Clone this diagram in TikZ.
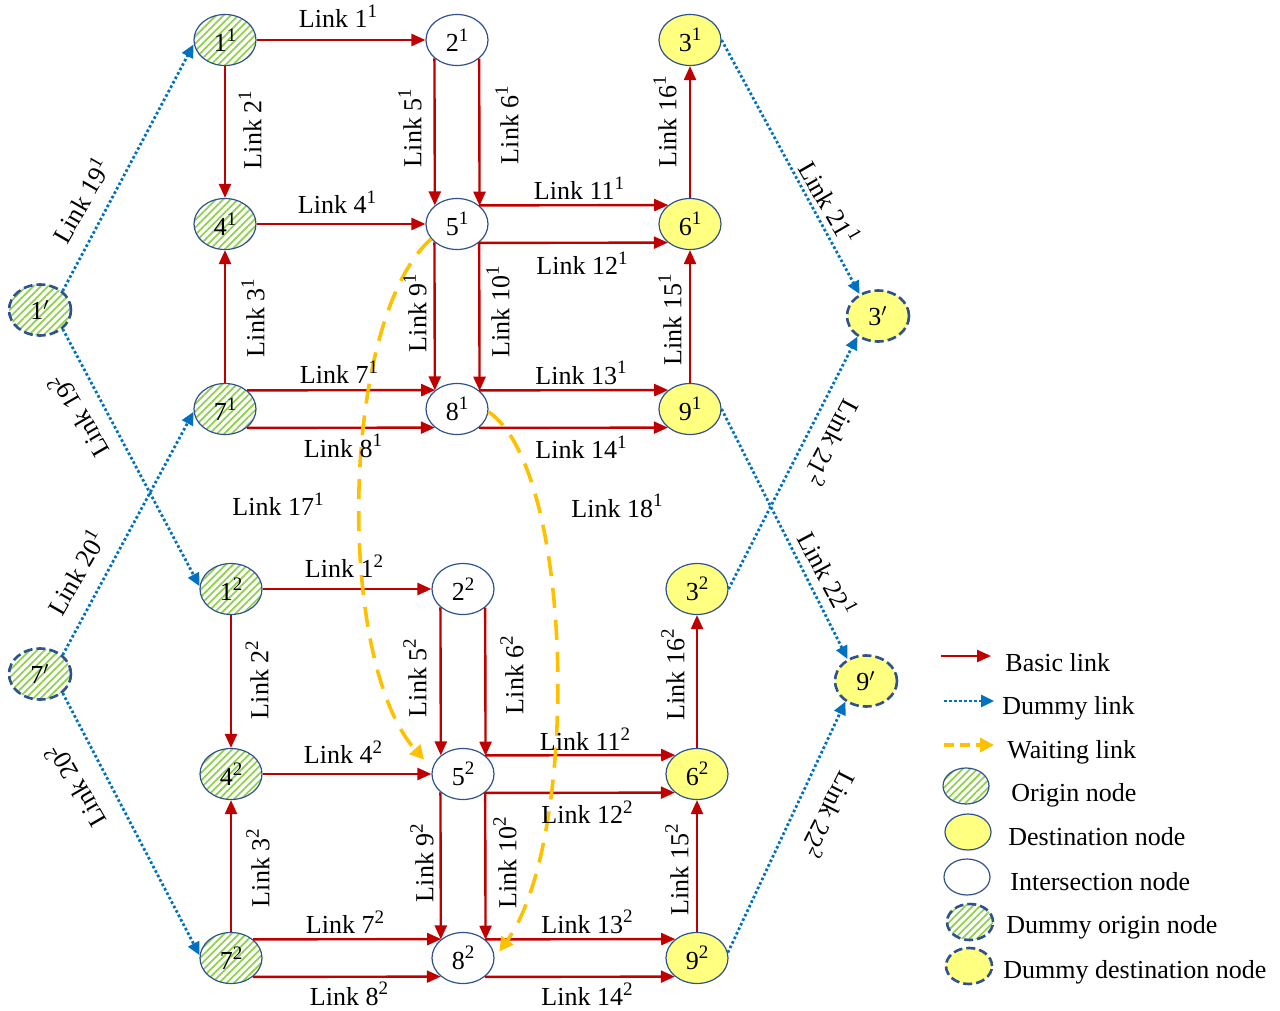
\documentclass[tikz,border=0pt]{standalone}
\usepackage{fontspec}
\setmainfont{Liberation Serif}
\usetikzlibrary{shapes.geometric,arrows.meta,patterns.meta}
\definecolor{bred}{RGB}{192,0,0}
\definecolor{dblue}{RGB}{0,112,192}
\definecolor{worange}{RGB}{255,192,0}
\definecolor{nblue}{RGB}{47,82,143}
\definecolor{dyellow}{RGB}{255,255,128}
\definecolor{hgreen}{RGB}{146,208,80}
\newcommand\lfs{\fontsize{13}{15}\selectfont}
\newcommand\sps[1]{\raisebox{0.40em}{\fontsize{9.5}{10}\selectfont #1}}
\begin{document}
\begin{tikzpicture}[x=0.5pt,y=-0.5pt,
 nd/.style={ellipse, draw=nblue, line width=0.6pt, minimum width=31pt, minimum height=25.5pt, inner sep=0pt, font=\lfs},
 orig/.style={nd, preaction={fill=white}, pattern={Lines[angle=45,distance=2.6pt,line width=0.9pt]}, pattern color=hgreen},
 dest/.style={nd, fill=dyellow},
 inter/.style={nd, fill=white},
 dumo/.style={orig, dash pattern=on 4.5pt off 2pt, line width=1.3pt},
 dumd/.style={dest, dash pattern=on 4.5pt off 2pt, line width=1.3pt},
 small/.style={minimum width=23pt, minimum height=18pt},
 basic/.style={draw=bred, line width=1.2pt, -{Triangle[length=7pt,width=6pt]}},
 dummy/.style={draw=dblue, line width=1.4pt, dash pattern=on 1.3pt off 1.2pt, -{Triangle[length=6.5pt,width=6pt]}},
 wait/.style={draw=worange, line width=1.8pt, dash pattern=on 10pt off 6pt, -{Triangle[length=7pt,width=7pt]}},
 lbl/.style={font=\lfs, inner sep=1pt},
 leg/.style={font=\lfs, inner sep=0pt, anchor=base west},
]
\useasboundingbox (0,0) rectangle (1280,1011);

% ---------- nodes, layer 1
\node[orig]  (n1a) at (225,40)  {1\sps{1}};
\node[inter] (n2a) at (457,40)  {2\sps{1}};
\node[dest]  (n3a) at (690,40)  {3\sps{1}};
\node[orig]  (n4a) at (225,224) {4\sps{1}};
\node[inter] (n5a) at (457,224) {5\sps{1}};
\node[dest]  (n6a) at (690,224) {6\sps{1}};
\node[orig]  (n7a) at (225,409) {7\sps{1}};
\node[inter] (n8a) at (457,409) {8\sps{1}};
\node[dest]  (n9a) at (690,409) {9\sps{1}};
% ---------- nodes, layer 2
\node[orig]  (n1b) at (231,589) {1\sps{2}};
\node[inter] (n2b) at (463,589) {2\sps{2}};
\node[dest]  (n3b) at (697,589) {3\sps{2}};
\node[orig]  (n4b) at (231,774) {4\sps{2}};
\node[inter] (n5b) at (463,774) {5\sps{2}};
\node[dest]  (n6b) at (697,774) {6\sps{2}};
\node[orig]  (n7b) at (231,958) {7\sps{2}};
\node[inter] (n8b) at (463,958) {8\sps{2}};
\node[dest]  (n9b) at (697,958) {9\sps{2}};
% ---------- dummy nodes
\node[dumo] (n1p) at (40,310)  {1$'$};
\node[dumo] (n7p) at (40,674)  {7$'$};
\node[dumd] (n3p) at (878,316) {3$'$};
\node[dumd] (n9p) at (866,681) {9$'$};

% ---------- basic links layer 1
\draw[basic] (n1a.east) -- (n2a.west);
\draw[basic] (n1a.south) -- (n4a.north);
\draw[basic] (n7a.north) -- (n4a.south);
\draw[basic] (n4a.east) -- (n5a.west);
\draw[basic] (n2a.219.2) -- (n5a.140.8);
\draw[basic] (n2a.320.8) -- (n5a.39.2);
\draw[basic] (n5a.40.9) -- (n6a.139.1);
\draw[basic] (n5a.319.1) -- (n6a.220.9);
\draw[basic] (n5a.219.2) -- (n8a.140.8);
\draw[basic] (n5a.320.8) -- (n8a.39.2);
\draw[basic] (n7a.40.9) -- (n8a.139.1);
\draw[basic] (n7a.319.1) -- (n8a.220.9);
\draw[basic] (n8a.40.9) -- (n9a.139.1);
\draw[basic] (n8a.319.1) -- (n9a.220.9);
\draw[basic] (n9a.north) -- (n6a.south);
\draw[basic] (n6a.north) -- (n3a.south);
% ---------- basic links layer 2
\draw[basic] (n1b.east) -- (n2b.west);
\draw[basic] (n1b.south) -- (n4b.north);
\draw[basic] (n7b.north) -- (n4b.south);
\draw[basic] (n4b.east) -- (n5b.west);
\draw[basic] (n2b.219.2) -- (n5b.140.8);
\draw[basic] (n2b.320.8) -- (n5b.39.2);
\draw[basic] (n5b.40.9) -- (n6b.139.1);
\draw[basic] (n5b.319.1) -- (n6b.220.9);
\draw[basic] (n5b.219.2) -- (n8b.140.8);
\draw[basic] (n5b.320.8) -- (n8b.39.2);
\draw[basic] (n7b.40.9) -- (n8b.139.1);
\draw[basic] (n7b.319.1) -- (n8b.220.9);
\draw[basic] (n8b.40.9) -- (n9b.139.1);
\draw[basic] (n8b.319.1) -- (n9b.220.9);
\draw[basic] (n9b.north) -- (n6b.south);
\draw[basic] (n6b.north) -- (n3b.south);

% ---------- dummy links
\draw[dummy] (n1p.40) -- (n1a.188);
\draw[dummy] (n1p.-40) -- (n1b.175);
\draw[dummy] (n7p.40) -- (n7a.185);
\draw[dummy] (n7p.-40) -- (n7b.175);
\draw[dummy] (n3a.east) -- (n3p.130);
\draw[dummy] (n3b.east) -- (n3p.225);
\draw[dummy] (n9a.east) -- (n9p.130);
\draw[dummy] (n9b.10) -- (n9p.225);

% ---------- waiting links
\draw[wait, shorten >=6pt] (n5a.210) .. controls (340,320) and (335,660) .. (n5b.170);
\draw[wait, shorten >=4pt] (n8a.-5) .. controls (575,470) and (580,840) .. (n8b.east);

% ---------- labels layer 1
\node[lbl] (t1a) at (338,16) {Link 1\sps{1}};
\node[lbl, rotate=90] (t2a) at (250,130) {Link 2\sps{1}};
\node[lbl] (t4a) at (337,202) {Link 4\sps{1}};
\node[lbl, rotate=90] (t3a) at (253,318) {Link 3\sps{1}};
\node[lbl, rotate=90] (t5a) at (410,128) {Link 5\sps{1}};
\node[lbl, rotate=90] (t6a) at (507,125) {Link 6\sps{1}};
\node[lbl, rotate=90] (t16a) at (665,122) {Link 16\sps{1}};
\node[lbl] (t11a) at (579,188) {Link 11\sps{1}};
\node[lbl] (t12a) at (582,263) {Link 12\sps{1}};
\node[lbl, rotate=90] (t9a) at (415,313) {Link 9\sps{1}};
\node[lbl, rotate=90] (t10a) at (498,312) {Link 10\sps{1}};
\node[lbl, rotate=90] (t15a) at (670,320) {Link 15\sps{1}};
\node[lbl] (t7a) at (339,372) {Link 7\sps{1}};
\node[lbl] (t8a) at (343,446) {Link 8\sps{1}};
\node[lbl] (t13a) at (581,373) {Link 13\sps{1}};
\node[lbl] (t14a) at (581,447) {Link 14\sps{1}};
\node[lbl] (t17a) at (278,504) {Link 17\sps{1}};
\node[lbl] (t18a) at (617,506) {Link 18\sps{1}};
% ---------- labels layer 2
\node[lbl] (t1b) at (344,566) {Link 1\sps{2}};
\node[lbl, rotate=90] (t2b) at (257,680) {Link 2\sps{2}};
\node[lbl] (t4b) at (343,752) {Link 4\sps{2}};
\node[lbl, rotate=90] (t3b) at (258,868) {Link 3\sps{2}};
\node[lbl, rotate=90] (t5b) at (415,678) {Link 5\sps{2}};
\node[lbl, rotate=90] (t6b) at (512,675) {Link 6\sps{2}};
\node[lbl, rotate=90] (t16b) at (673,675) {Link 16\sps{2}};
\node[lbl] (t11b) at (585,739) {Link 11\sps{2}};
\node[lbl] (t12b) at (587,812) {Link 12\sps{2}};
\node[lbl, rotate=90] (t9b) at (422,863) {Link 9\sps{2}};
\node[lbl, rotate=90] (t10b) at (505,863) {Link 10\sps{2}};
\node[lbl, rotate=90] (t15b) at (677,870) {Link 15\sps{2}};
\node[lbl] (t7b) at (345,922) {Link 7\sps{2}};
\node[lbl] (t8b) at (349,994) {Link 8\sps{2}};
\node[lbl] (t13b) at (587,922) {Link 13\sps{2}};
\node[lbl] (t14b) at (587,994) {Link 14\sps{2}};
% ---------- dummy labels
\node[lbl, rotate=60] (t19a) at (80,200) {Link 19\sps{1}};
\node[lbl, rotate=120] (t19b) at (78,417) {Link 19\sps{2}};
\node[lbl, rotate=60] (t20a) at (75,572) {Link 20\sps{1}};
\node[lbl, rotate=120] (t20b) at (75,787) {Link 20\sps{2}};
\node[lbl, rotate=-60] (t21a) at (830,202) {Link 21\sps{1}};
\node[lbl, rotate=-118] (t21b) at (833,443) {Link 21\sps{2}};
\node[lbl, rotate=-62] (t22a) at (828,573) {Link 22\sps{1}};
\node[lbl, rotate=-117] (t22b) at (830,815) {Link 22\sps{2}};

% ---------- legend
\coordinate (la1) at (941,656); \coordinate (la2) at (991,656);
\draw[basic] (la1) -- (la2);
\node[leg] (lt1) at (1005,671) {Basic link};
\coordinate (lb1) at (944,701); \coordinate (lb2) at (994,701);
\draw[dummy] (lb1) -- (lb2);
\node[leg] (lt2) at (1002,714) {Dummy link};
\coordinate (lc1) at (944,745); \coordinate (lc2) at (994,745);
\draw[wait, dash pattern=on 5pt off 3pt] (lc1) -- (lc2);
\node[leg] (lt3) at (1007,758) {Waiting link};
\node[orig, small] (lg1) at (966,786) {};
\node[leg] (lt4) at (1011,801) {Origin node};
\node[dest, small] (lg2) at (968,832) {};
\node[leg] (lt5) at (1008,845) {Destination node};
\node[inter, small] (lg3) at (967,877) {};
\node[leg] (lt6) at (1010,890) {Intersection node};
\node[dumo, small] (lg4) at (970,922) {};
\node[leg] (lt7) at (1006,933) {Dummy origin node};
\node[dumd, small] (lg5) at (969,966) {};
\node[leg] (lt8) at (1003,978) {Dummy destination node};
\end{tikzpicture}
\end{document}
